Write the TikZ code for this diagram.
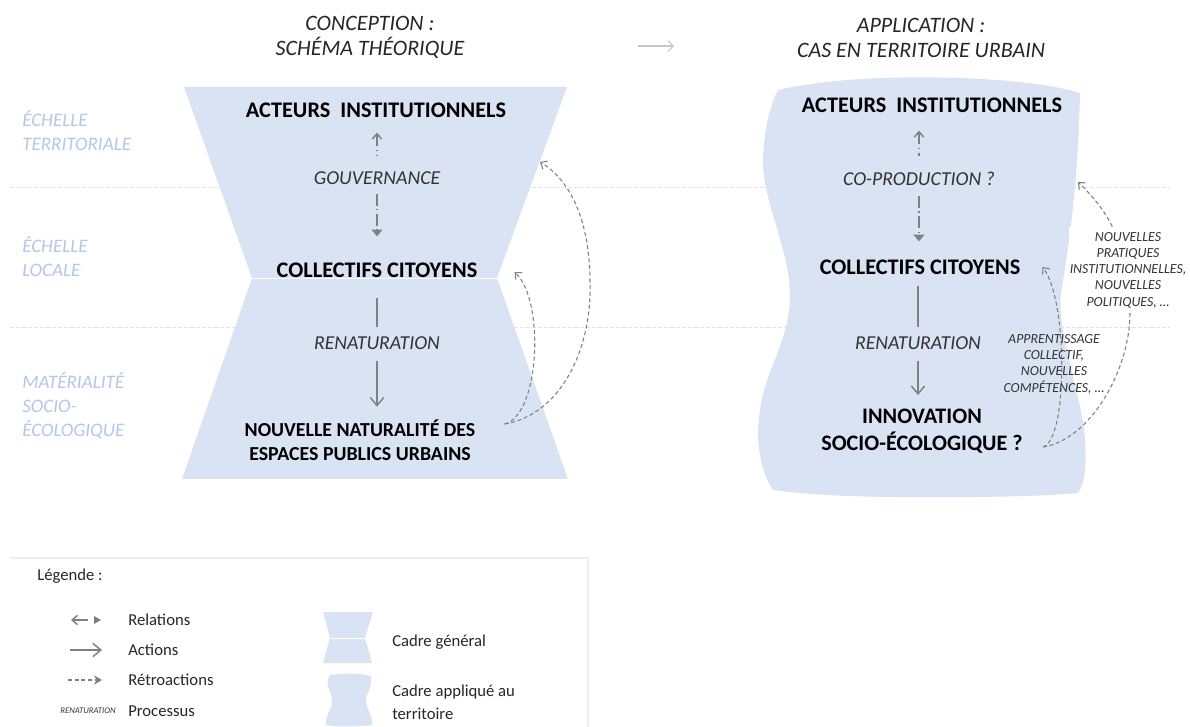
\documentclass[tikz,border=0pt]{standalone}
\usepackage{fontspec}
\setmainfont{Carlito}
\usetikzlibrary{arrows.meta,calc}
\definecolor{fillblue}{HTML}{DAE3F3}
\definecolor{scaleblue}{HTML}{B4C7E7}
\definecolor{arrgray}{HTML}{808080}
\definecolor{sepline}{HTML}{DDE3EE}
\definecolor{leglinec}{HTML}{EEEEEE}
\definecolor{titlearr}{HTML}{C8C8C8}
\begin{document}
\begin{tikzpicture}[x=0.75pt,y=-0.75pt,
 frame/.style={fill=fillblue,draw=none},
 waist/.style={draw=white,line width=0.6pt},
 bignode/.style={font=\fontsize{16.7}{18}\selectfont\bfseries, inner sep=0pt, align=center},
 proc/.style={font=\fontsize{14.8}{17}\selectfont\itshape, text=black!80, inner sep=0pt},
 scalelbl/.style={font=\fontsize{14.3}{18}\selectfont\itshape, text=scaleblue, inner sep=0pt, align=left, anchor=west},
 title/.style={font=\fontsize{16.5}{18.75}\selectfont\itshape, text=black!85, inner sep=0pt, align=center},
 relup/.style={draw=arrgray, line width=1.1pt, dash pattern=on 9pt off 2.5pt on 1.2pt off 2.5pt, {Straight Barb[length=4pt,width=7pt]}-},
 reldown/.style={draw=arrgray, line width=1.1pt, dash pattern=on 9pt off 2.5pt on 1.2pt off 2.5pt, -{Triangle[length=5pt,width=8pt]}},
 actline/.style={draw=arrgray, line width=1.1pt},
 actarrow/.style={draw=arrgray, line width=1.1pt, -{Straight Barb[length=6pt,width=10pt]}},
 fbarrow/.style={draw=arrgray, line width=0.8pt, dash pattern=on 3pt off 2pt, -{Straight Barb[length=4pt,width=7pt]}},
 small/.style={font=\fontsize{10.4}{12.2}\selectfont\itshape, text=black!80, inner sep=2pt, align=center},
 legtext/.style={font=\fontsize{12.5}{17}\selectfont, text=black!85, inner sep=0pt, anchor=west, align=left},
 sep/.style={draw=sepline, line width=0.7pt, dash pattern=on 3pt off 1.5pt},
 tarrow/.style={draw=titlearr, line width=0.8pt, -{Straight Barb[length=4pt,width=8pt]}},
]
\useasboundingbox (0,0) rectangle (1190,727);

% scale separators
\draw[sep] (10,187) -- (1170,187);
\draw[sep] (10,327) -- (1170,327);

% left hourglass frame
\fill[frame] (184,87) -- (567,87) -- (497,278) -- (252,278) -- cycle;
\fill[frame] (252,278) -- (497,278) -- (568,479) -- (182,479) -- cycle;
\draw[waist] (252,278) -- (497,278);

% right applied frame
\fill[frame] (778,90) .. controls (830,78) and (900,76) .. (960,78)
  .. controls (1010,80) and (1050,84) .. (1080,93)
  .. controls (1078,180) and (1070,240) .. (1061,293)
  .. controls (1056,330) and (1083,400) .. (1085,440)
  .. controls (1087,470) and (1084,485) .. (1078,493)
  .. controls (1020,498) and (950,497) .. (900,497)
  .. controls (850,497) and (800,494) .. (773,490)
  .. controls (760,470) and (755,440) .. (760,410)
  .. controls (765,370) and (790,340) .. (790,295)
  .. controls (790,250) and (762,200) .. (763,160)
  .. controls (764,130) and (770,105) .. (778,90) -- cycle;

% titles
\node[title] (t1) at (370,37.5) {CONCEPTION :\\SCHÉMA THÉORIQUE};
\node[title] (t2) at (921,37.5) {APPLICATION :\\CAS EN TERRITOIRE URBAIN};
\draw[tarrow, shorten <=130pt, shorten >=92pt] ([yshift=-6.4pt]t1.east) -- ([yshift=-6.4pt]t2.west);

% scale labels
\node[scalelbl] (s1) at (22,131) {ÉCHELLE\\TERRITORIALE};
\node[scalelbl] (s2) at (22,257) {ÉCHELLE\\LOCALE};
\node[scalelbl] (s3) at (22,406) {MATÉRIALITÉ\\SOCIO-\\ÉCOLOGIQUE};

% left diagram
\node[bignode] (actL) at (376,110) {ACTEURS\ \ INSTITUTIONNELS};
\node[proc] (gouvL) at (377,178) {GOUVERNANCE};
\node[bignode] (collL) at (377,270) {COLLECTIFS CITOYENS};
\node[proc] (renL) at (377,343) {RENATURATION};
\node[bignode, font=\fontsize{14.9}{18}\selectfont\bfseries] (nouvL) at (360,440) {NOUVELLE NATURALITÉ DES\\ESPACES PUBLICS URBAINS};

\draw[relup, shorten <=11.2pt, shorten >=11.1pt] (gouvL.north |- actL.south) -- (gouvL.north);
\draw[reldown, shorten <=6.6pt, shorten >=19.5pt] (gouvL.south) -- (gouvL.south |- collL.north);
\draw[actline, shorten <=15pt, shorten >=7.3pt] (renL.north |- collL.south) -- (renL.north);
\draw[actarrow, shorten <=8.1pt, shorten >=9.5pt] (renL.south) -- (renL.south |- nouvL.north);

\coordinate (fbTopL) at (540,162);
\draw[fbarrow] ([xshift=21.75pt,yshift=12pt]nouvL.east) .. controls (540,415) and (545,300) .. ([xshift=27.75pt,yshift=-1.5pt]collL.east);
\draw[fbarrow] ([xshift=21.75pt,yshift=12pt]nouvL.east) .. controls (560,415) and (592,350) .. (590,283) .. controls (590,220) and (570,180) .. (fbTopL);

% right diagram
\node[bignode] (actR) at (932,105) {ACTEURS\ \ INSTITUTIONNELS};
\node[proc] (coR) at (919,179) {CO-PRODUCTION ?};
\node[bignode] (collR) at (920,267) {COLLECTIFS CITOYENS};
\node[proc] (renR) at (918,343) {RENATURATION};
\node[bignode, font=\fontsize{16.6}{20.25}\selectfont\bfseries] (innR) at (922,431.5) {INNOVATION\\SOCIO-ÉCOLOGIQUE ?};

\draw[relup, shorten <=13.5pt, shorten >=11.8pt] (coR.north |- actR.south) -- (coR.north);
\draw[reldown, shorten <=7.4pt, shorten >=13.5pt] (coR.south) -- (coR.south |- collR.north);
\draw[actline, shorten <=8.2pt, shorten >=7.3pt] (renR.north |- collR.south) -- (renR.north);
\draw[actarrow, shorten <=8.1pt, shorten >=10.5pt] (renR.south) -- (renR.south |- innR.north);

\coordinate (fbTopR) at (1078,182);
\draw[fbarrow] ([xshift=15pt,yshift=-11.6pt]innR.east) .. controls (1068,440) and (1068,300) .. ([xshift=16.5pt]collR.east);
\draw[fbarrow] ([xshift=15pt,yshift=-11.6pt]innR.east) .. controls (1090,440) and (1130,370) .. (1130,313) .. controls (1130,260) and (1118,220) .. (fbTopR);

\node[small] (appr) at (1054,364) {APPRENTISSAGE\\COLLECTIF,\\NOUVELLES\\COMPÉTENCES, …};
\node[small, fill=white, inner xsep=0.5pt, inner ysep=4pt] (nouvp) at (1128,270) {NOUVELLES\\PRATIQUES\\INSTITUTIONNELLES,\\NOUVELLES\\POLITIQUES, …};

% legend
\draw[leglinec, line width=0.8pt] (10,558) -- (588,558) -- (588,727);
\node[legtext] (leg) at (37,576) {Légende :};
\draw[draw=arrgray, line width=1.1pt, {Straight Barb[length=4pt,width=7pt]}-] (71,620) -- (88,620);
\fill[arrgray] (94,616) -- (101,620) -- (94,624) -- cycle;
\node[legtext] (lrel) at (128,620) {Relations};
\draw[actarrow] (70,650) -- (102,650);
\node[legtext] (lact) at (128,650) {Actions};
\draw[draw=arrgray, line width=0.8pt, dash pattern=on 3pt off 2pt, -{Stealth[length=6pt,width=7pt]}] (68,680) -- (102,680);
\node[legtext] (lret) at (128,680) {Rétroactions};
\node[font=\fontsize{6.5}{7}\selectfont\itshape, text=black!80, inner sep=0pt] (lproc0) at (88,711) {RENATURATION};
\node[legtext] (lproc) at (128,711) {Processus};

\fill[frame] (323,612) -- (373,612) -- (365,638) -- (330,638) -- cycle;
\fill[frame] (330,638) -- (365,638) -- (372,663) -- (323,663) -- cycle;
\draw[waist] (330,638) -- (365,638);
\node[legtext] (lcg) at (392,642) {Cadre général};

\fill[frame] (330,675) .. controls (345,673) and (360,673) .. (371,676)
  .. controls (373,690) and (364,695) .. (366,702)
  .. controls (368,712) and (373,716) .. (372,725)
  .. controls (355,727) and (340,727) .. (326,725)
  .. controls (325,715) and (333,708) .. (332,700)
  .. controls (331,690) and (324,684) .. (330,675) -- cycle;
\node[legtext] (lca) at (392,702) {Cadre appliqué au\\territoire};
\end{tikzpicture}
\end{document}
